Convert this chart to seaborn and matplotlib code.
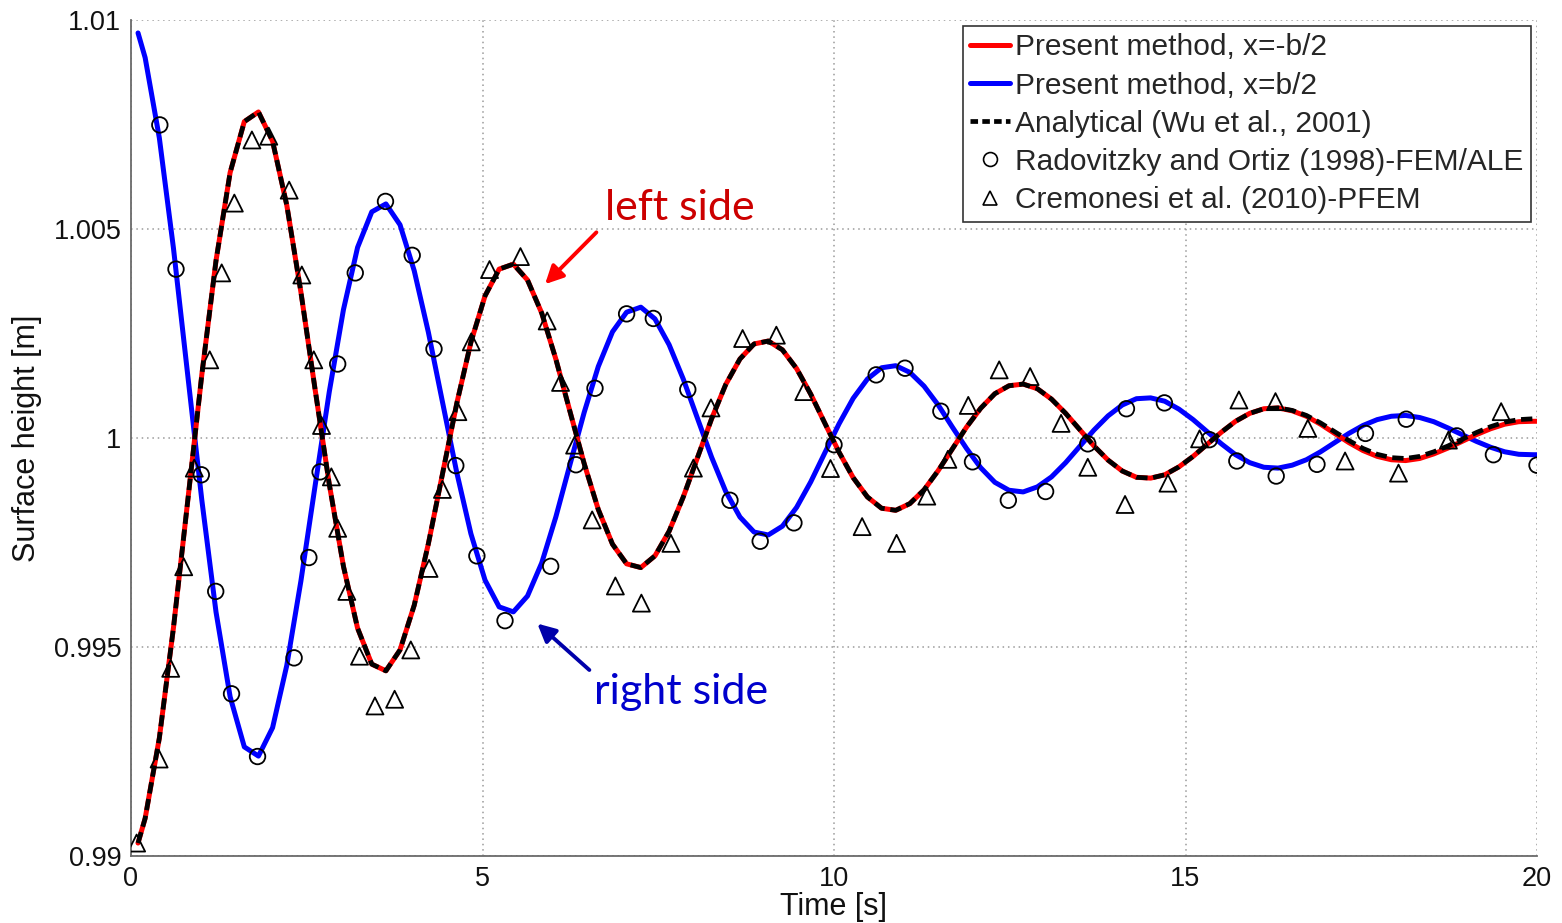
import matplotlib
matplotlib.use("Agg")
import matplotlib.pyplot as plt
from matplotlib.lines import Line2D
import seaborn as sns
import pandas as pd

# ---------------- data ----------------
time_s = [0.100, 0.201, 0.403, 0.604, 0.806, 1.007, 1.209, 1.410, 1.612, 1.813,
          2.014, 2.216, 2.417, 2.619, 2.820, 3.022, 3.223, 3.425, 3.626, 3.827,
          4.029, 4.230, 4.432, 4.633, 4.835, 5.036, 5.237, 5.439, 5.640, 5.842,
          6.043, 6.245, 6.446, 6.647, 6.849, 7.050, 7.252, 7.453, 7.655, 7.856,
          8.058, 8.259, 8.460, 8.662, 8.863, 9.065, 9.266, 9.468, 9.669, 9.871,
          10.072, 10.273, 10.475, 10.676, 10.878, 11.079, 11.281, 11.482, 11.684, 11.885,
          12.086, 12.288, 12.489, 12.691, 12.892, 13.094, 13.295, 13.496, 13.698, 13.899,
          14.101, 14.302, 14.504, 14.705, 14.907, 15.108, 15.309, 15.511, 15.712, 15.914,
          16.115, 16.317, 16.518, 16.720, 16.921, 17.122, 17.324, 17.525, 17.727, 17.928,
          18.130, 18.331, 18.532, 18.734, 18.935, 19.137, 19.338, 19.540, 19.741, 19.943,
          20.000]

left_side = [0.99031, 0.99090, 0.99282, 0.99546, 0.99848, 1.00151, 1.00424, 1.00635, 1.00757, 1.00780,
             1.00710, 1.00557, 1.00349, 1.00116, 0.99890, 0.99693, 0.99545, 0.99459, 0.99443, 0.99493,
             0.99600, 0.99747, 0.99915, 1.00082, 1.00229, 1.00340, 1.00404, 1.00416, 1.00378, 1.00299,
             1.00189, 1.00063, 0.99939, 0.99829, 0.99746, 0.99699, 0.99690, 0.99718, 0.99777, 0.99859,
             0.99953, 1.00046, 1.00128, 1.00189, 1.00225, 1.00232, 1.00211, 1.00166, 1.00105, 1.00035,
             0.99966, 0.99905, 0.99859, 0.99832, 0.99827, 0.99843, 0.99876, 0.99922, 0.99974, 1.00026,
             1.00071, 1.00106, 1.00125, 1.00129, 1.00118, 1.00093, 1.00059, 1.00020, 0.99981, 0.99947,
             0.99921, 0.99906, 0.99904, 0.99912, 0.99931, 0.99956, 0.99985, 1.00014, 1.00040, 1.00059,
             1.00070, 1.00072, 1.00065, 1.00052, 1.00033, 1.00011, 0.99989, 0.99970, 0.99956, 0.99948,
             0.99946, 0.99951, 0.99962, 0.99976, 0.99992, 1.00008, 1.00022, 1.00033, 1.00039, 1.00040,
             1.00040]

right_side = [1.00969, 1.00910, 1.00718, 1.00454, 1.00152, 0.99852, 0.99584, 0.99381, 0.99261, 0.99239,
              0.99307, 0.99456, 0.99658, 0.99886, 1.00110, 1.00307, 1.00456, 1.00541, 1.00560, 1.00510,
              1.00400, 1.00253, 1.00085, 0.99918, 0.99771, 0.99660, 0.99596, 0.99584, 0.99622, 0.99701,
              0.99811, 0.99937, 1.00061, 1.00171, 1.00254, 1.00301, 1.00313, 1.00285, 1.00223, 1.00141,
              1.00047, 0.99954, 0.99872, 0.99811, 0.99775, 0.99768, 0.99789, 0.99834, 0.99895, 0.99965,
              1.00034, 1.00095, 1.00141, 1.00168, 1.00173, 1.00157, 1.00124, 1.00079, 1.00026, 0.99975,
              0.99929, 0.99894, 0.99875, 0.99871, 0.99883, 0.99907, 0.99941, 0.99980, 1.00019, 1.00053,
              1.00079, 1.00094, 1.00096, 1.00088, 1.00069, 1.00044, 1.00015, 0.99986, 0.99960, 0.99941,
              0.99930, 0.99928, 0.99935, 0.99948, 0.99967, 0.99989, 1.00011, 1.00030, 1.00044, 1.00052,
              1.00054, 1.00049, 1.00039, 1.00024, 1.00008, 0.99992, 0.99978, 0.99967, 0.99961, 0.99960,
              0.99960]

analytical = [0.99031, 0.99090, 0.99282, 0.99546, 0.99848, 1.00151, 1.00424, 1.00635, 1.00757, 1.00780,
              1.00710, 1.00557, 1.00349, 1.00116, 0.99890, 0.99693, 0.99545, 0.99459, 0.99443, 0.99493,
              0.99600, 0.99747, 0.99915, 1.00082, 1.00229, 1.00340, 1.00404, 1.00416, 1.00378, 1.00299,
              1.00189, 1.00063, 0.99939, 0.99829, 0.99746, 0.99699, 0.99690, 0.99718, 0.99777, 0.99859,
              0.99953, 1.00046, 1.00128, 1.00189, 1.00225, 1.00232, 1.00211, 1.00166, 1.00105, 1.00035,
              0.99966, 0.99905, 0.99859, 0.99832, 0.99827, 0.99843, 0.99876, 0.99922, 0.99974, 1.00026,
              1.00071, 1.00106, 1.00125, 1.00129, 1.00118, 1.00093, 1.00059, 1.00020, 0.99981, 0.99947,
              0.99921, 0.99906, 0.99904, 0.99912, 0.99931, 0.99956, 0.99985, 1.00014, 1.00040, 1.00059,
              1.00070, 1.00072, 1.00066, 1.00054, 1.00036, 1.00015, 0.99994, 0.99975, 0.99961, 0.99953,
              0.99951, 0.99956, 0.99967, 0.99981, 0.99997, 1.00013, 1.00027, 1.00038, 1.00044, 1.00046,
              1.00046]

rad_t = [0.41, 0.64, 1.00, 1.205, 1.43, 1.80, 2.32, 2.53, 2.69, 2.94, 3.19, 3.62, 4.00, 4.31,
         4.62, 4.92, 5.32, 5.97, 6.33, 6.60, 7.05, 7.43, 7.92, 8.52, 8.95, 9.43, 10.00, 10.60,
         11.01, 11.52, 11.97, 12.48, 13.01, 13.61, 14.16, 14.70, 15.34, 15.73, 16.29, 16.87,
         17.56, 18.14, 18.86, 19.38, 20.00]
rad_h = [1.00749, 1.00404, 0.99912, 0.99633, 0.99388, 0.99238, 0.99474, 0.99714, 0.99919, 1.00177,
         1.00395, 1.00566, 1.00437, 1.00213, 0.99934, 0.99718, 0.99563, 0.99693, 0.99936, 1.00119,
         1.00297, 1.00286, 1.00116, 0.99851, 0.99753, 0.99797, 0.99984, 1.00151, 1.00167, 1.00064,
         0.99943, 0.99851, 0.99872, 0.99986, 1.00070, 1.00084, 0.99996, 0.99945, 0.99909, 0.99937,
         1.00011, 1.00045, 1.00005, 0.99960, 0.99935]

cre_t = [0.08, 0.40, 0.565, 0.75, 0.90, 1.12, 1.29, 1.47, 1.72, 1.96, 2.25, 2.43, 2.60, 2.71,
         2.85, 2.94, 3.07, 3.25, 3.47, 3.75, 3.98, 4.24, 4.43, 4.65, 4.84, 5.10, 5.54, 5.92,
         6.11, 6.31, 6.56, 6.89, 7.26, 7.68, 8.00, 8.25, 8.70, 9.18, 9.57, 9.95, 10.40, 10.89,
         11.32, 11.62, 11.91, 12.35, 12.79, 13.23, 13.61, 14.14, 14.75, 15.20, 15.76, 16.28,
         16.74, 17.27, 18.03, 18.74, 19.49]
cre_h = [0.99031, 0.99232, 0.99449, 0.99692, 0.99928, 1.00187, 1.00395, 1.00562, 1.00713, 1.00722,
         1.00593, 1.00390, 1.00187, 1.00030, 0.99907, 0.99784, 0.99633, 0.99478, 0.99359, 0.99375,
         0.99493, 0.99688, 0.99877, 1.00063, 1.00230, 1.00403, 1.00434, 1.00280, 1.00133, 0.99983,
         0.99804, 0.99646, 0.99605, 0.99748, 0.99928, 1.00072, 1.00238, 1.00246, 1.00111, 0.99927,
         0.99788, 0.99748, 0.99861, 0.99949, 1.00078, 1.00163, 1.00147, 1.00035, 0.99930, 0.99841,
         0.99892, 0.99998, 1.00091, 1.00087, 1.00023, 0.99945, 0.99916, 0.99995, 1.00063]

legend_labels = ["Present method, x=-b/2", "Present method, x=b/2",
                 "Analytical (Wu et al., 2001)",
                 "Radovitzky and Ortiz (1998)-FEM/ALE",
                 "Cremonesi et al. (2010)-PFEM"]
x_ticks = [0, 5, 10, 15, 20]
y_ticks = [0.99, 0.995, 1.0, 1.005, 1.01]
y_tick_labels = ["0.99", "0.995", "1", "1.005", "1.01"]

# ---------------- styling ----------------
sns.set_theme(style="white")
plt.rcParams["font.family"] = ["Liberation Sans", "DejaVu Sans"]

fig = plt.figure(figsize=(15.62, 9.23), dpi=100)
ax = fig.add_axes([131 / 1562, 1 - 856 / 923, (1537 - 131) / 1562, (856 - 20) / 923])

curves = pd.DataFrame({"t": time_s, "left": left_side, "right": right_side, "ana": analytical})
refs_r = pd.DataFrame({"t": rad_t, "h": rad_h})
refs_c = pd.DataFrame({"t": cre_t, "h": cre_h})

lw = 3.6
sns.lineplot(data=curves, x="t", y="right", ax=ax, color="#0000ff", lw=lw,
             estimator=None, sort=False, zorder=3, solid_joinstyle="round",
             solid_capstyle="round")
sns.lineplot(data=curves, x="t", y="left", ax=ax, color="#ff0000", lw=lw,
             estimator=None, sort=False, zorder=4, solid_joinstyle="round",
             solid_capstyle="round")
sns.lineplot(data=curves, x="t", y="ana", ax=ax, color="black", lw=3.4,
             estimator=None, sort=False, zorder=5, dashes=False)
ax.lines[-1].set_dashes([2.4, 1.2])
ax.lines[-1].set_dash_capstyle("butt")
ax.lines[-1].set_dash_joinstyle("round")

sns.scatterplot(data=refs_r, x="t", y="h", ax=ax, marker="o", s=125,
                facecolor="none", edgecolor="black", linewidth=1.3, zorder=6)
sns.scatterplot(data=refs_c, x="t", y="h", ax=ax, marker="^", s=150,
                facecolor="none", edgecolor="black", linewidth=1.3, zorder=6)

ax.set_xlim(0, 20)
ax.set_ylim(0.99, 1.01)
ax.set_xticks(x_ticks)
ax.set_xticklabels([str(v) for v in x_ticks])
ax.set_yticks(y_ticks)
ax.set_yticklabels(y_tick_labels)
ax.grid(True, linestyle=(0, (1, 2.5)), color="#9a9a9a", lw=1.1)
for side in ("top", "right"):
    ax.spines[side].set_visible(False)
for side in ("left", "bottom"):
    ax.spines[side].set_color("#6a6a6a")
    ax.spines[side].set_linewidth(1.3)
ax.tick_params(direction="in", length=7, width=1.2, color="#6a6a6a",
               labelsize=19.5, labelcolor="#111111", pad=7)
ax.set_xlabel("Time [s]", fontsize=22, labelpad=0, color="#111111")
ax.set_ylabel("Surface height [m]", fontsize=22, labelpad=8, color="#111111")

# legend
handles = [Line2D([], [], color="#ff0000", lw=3.6),
           Line2D([], [], color="#0000ff", lw=3.6),
           Line2D([], [], color="black", lw=3.4, dashes=[1.6, 0.9]),
           Line2D([], [], ls="none", marker="o", ms=10, mfc="none", mec="black", mew=1.2),
           Line2D([], [], ls="none", marker="^", ms=10, mfc="none", mec="black", mew=1.2)]
leg = ax.legend(handles, legend_labels, loc="upper right", fontsize=21.5,
                frameon=True, fancybox=False, framealpha=1, edgecolor="#333333",
                borderaxespad=0.2, handlelength=1.34, handletextpad=0.17,
                labelspacing=0.34, borderpad=0.25)
leg.get_frame().set_linewidth(1.2)
leg.set_zorder(10)

# annotations
ax.annotate("", xy=(5.89, 1.00368), xytext=(6.62, 1.00492),
            arrowprops=dict(arrowstyle="-|>,head_length=0.9,head_width=0.45",
                            color="#ff0000", lw=2.8, shrinkA=0, shrinkB=0))
ax.text(7.81, 1.00522, "left side", color="#cc0000", fontsize=31,
        family=["Lato", "DejaVu Sans"], ha="center", va="baseline")
ax.annotate("", xy=(5.78, 0.99556), xytext=(6.52, 0.99445),
            arrowprops=dict(arrowstyle="-|>,head_length=0.9,head_width=0.45",
                            color="#0000aa", lw=2.8, shrinkA=0, shrinkB=0))
ax.text(7.83, 0.99363, "right side", color="#0000cc", fontsize=31,
        family=["Lato", "DejaVu Sans"], ha="center", va="baseline")

fig.savefig("out.png", dpi=100)
